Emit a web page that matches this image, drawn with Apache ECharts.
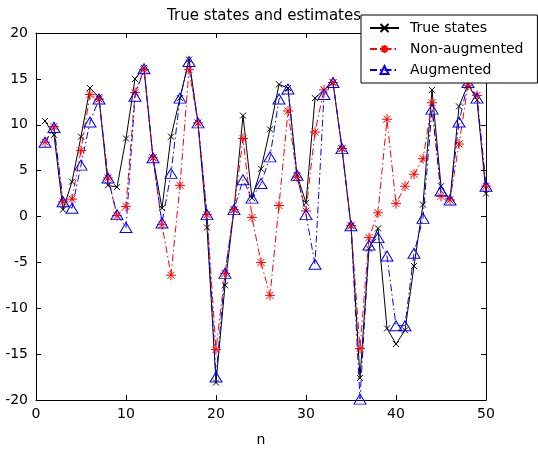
<!DOCTYPE html>
<html>
<head>
<meta charset="utf-8">
<script src="https://cdn.jsdelivr.net/npm/echarts@6/dist/echarts.min.js"></script>
<style>
    html, body { margin: 0; padding: 0; background: #fff; }
    #chart { width: 538px; height: 452px; }
</style>
</head>
<body>
<div id="chart"></div>
<script>
const steps = [
    1, 2, 3, 4, 5, 6, 7, 8, 9, 10,
    11, 12, 13, 14, 15, 16, 17, 18, 19, 20,
    21, 22, 23, 24, 25, 26, 27, 28, 29, 30,
    31, 32, 33, 34, 35, 36, 37, 38, 39, 40,
    41, 42, 43, 44, 45, 46, 47, 48, 49, 50
];

const trueStates = [
    10.4, 8.9, 0.75, 3.8, 8.7, 14.0, 13.0, 3.4, 3.2, 8.5,
    15.0, 16.2, 6.4, 0.9, 8.7, 12.9, 17.1, 10.2, -1.2, -18.1,
    -7.5, 0.75, 11.0, 2.0, 5.2, 9.5, 14.4, 14.0, 4.5, 1.5,
    12.9, 13.8, 14.6, 7.4, -1.0, -17.6, -3.5, -1.3, -12.2, -13.9,
    -12.4, -5.4, 1.3, 13.8, 3.3, 1.8, 12.0, 14.4, 12.7, 2.5
];

const nonAugmented = [
    8.1, 9.8, 1.6, 1.9, 7.2, 13.3, 12.8, 4.2, 0.1, 1.1,
    13.5, 16.0, 6.4, -0.9, -6.4, 3.4, 16.0, 10.2, 0.2, -14.5,
    -6.2, 0.75, 8.5, -0.1, -5.0, -8.6, 1.2, 11.5, 4.3, 0.6,
    9.2, 13.8, 14.6, 7.4, -1.0, -14.4, -2.3, 0.4, 10.6, 1.4,
    3.3, 4.6, 6.3, 12.4, 2.2, 1.8, 7.9, 14.3, 13.2, 3.3
];

const augmented = [
    8.1, 9.7, 1.6, 0.9, 5.6, 10.3, 12.8, 4.2, 0.2, -1.2,
    13.1, 16.1, 6.4, -0.7, 4.7, 12.9, 16.9, 10.2, 0.2, -17.5,
    -6.2, 0.75, 4.0, 2.0, 3.6, 6.5, 12.8, 13.9, 4.5, 0.2,
    -5.2, 13.3, 14.6, 7.4, -1.0, -19.9, -3.1, -2.3, -4.3, -11.9,
    -11.9, -4.0, -0.2, 11.7, 2.8, 1.8, 10.3, 14.6, 12.9, 3.3
];

const xTicks = [0, 10, 20, 30, 40, 50];
const yTicks = [-20, -15, -10, -5, 0, 5, 10, 15, 20];

const FONT = "DejaVu Sans";
const chart = echarts.init(document.getElementById("chart"), null, { renderer: "canvas" });

function frameAxis(position, ticks, labels) {
    return {
        type: "value",
        position: position,
        min: ticks[0],
        max: ticks[ticks.length - 1],
        interval: ticks[1] - ticks[0],
        axisLine: { show: true, onZero: false, lineStyle: { color: "#000", width: 1 } },
        axisTick: { show: true, inside: true, length: 5, lineStyle: { color: "#000" } },
        axisLabel: {
            show: labels,
            color: "#000",
            fontFamily: FONT,
            fontSize: 14,
            margin: 8
        },
        splitLine: { show: false }
    };
}

function pairs(values) {
    return steps.map((n, i) => [n, values[i]]);
}

const xBottom = frameAxis("bottom", xTicks, true);
xBottom.axisLabel.margin = 7;
xBottom.name = "n";
xBottom.nameLocation = "middle";
xBottom.nameGap = 33;
xBottom.nameTextStyle = { color: "#000", fontFamily: FONT, fontSize: 14 };

const option = {
    animation: false,
    backgroundColor: "#fff",
    grid: { left: 36, right: 52, top: 33, bottom: 47 },
    title: {
        text: "True states and estimates",
        left: 162,
        top: 4,
        textStyle: { color: "#000", fontFamily: FONT, fontSize: 15, fontWeight: "normal" }
    },
    legend: {
        orient: "vertical",
        left: 361,
        top: 15,
        padding: [6, 14, 6, 8],
        itemGap: 7,
        itemWidth: 29,
        itemHeight: 10,
        backgroundColor: "#fff",
        borderColor: "#000",
        borderWidth: 1,
        borderRadius: 0,
        textStyle: { color: "#000", fontFamily: FONT, fontSize: 14, padding: [0, 0, 0, 6] },
        data: ["True states", "Non-augmented", "Augmented"]
    },
    xAxis: [xBottom, frameAxis("top", xTicks, false)],
    yAxis: [frameAxis("left", yTicks, true), frameAxis("right", yTicks, false)],
    series: [
        {
            name: "True states",
            type: "line",
            data: pairs(trueStates),
            symbol: "path://M0,0L10,10M10,0L0,10",
            symbolSize: 6,
            showAllSymbol: true,
            lineStyle: { color: "#000", width: 1 },
            itemStyle: { color: "#000", borderColor: "#000", borderWidth: 1 },
            emphasis: { disabled: true }
        },
        {
            name: "Non-augmented",
            type: "line",
            data: pairs(nonAugmented),
            symbol: "path://M5,0L5,10M0,5L10,5M1.5,1.5L8.5,8.5M8.5,1.5L1.5,8.5",
            symbolSize: 10,
            showAllSymbol: true,
            lineStyle: { color: "#ff0000", width: 1, type: [7, 3, 1.5, 3] },
            itemStyle: { color: "#ff0000", borderColor: "#ff0000", borderWidth: 1 },
            emphasis: { disabled: true }
        },
        {
            name: "Augmented",
            type: "line",
            data: pairs(augmented),
            symbol: "triangle",
            symbolSize: [12, 10],
            showAllSymbol: true,
            lineStyle: { color: "#0000ff", width: 1, type: [7, 3, 1.5, 3] },
            itemStyle: { color: "rgba(0,0,0,0)", borderColor: "#0000ff", borderWidth: 1 },
            emphasis: { disabled: true }
        }
    ]
};

chart.setOption(option);
</script>
</body>
</html>
